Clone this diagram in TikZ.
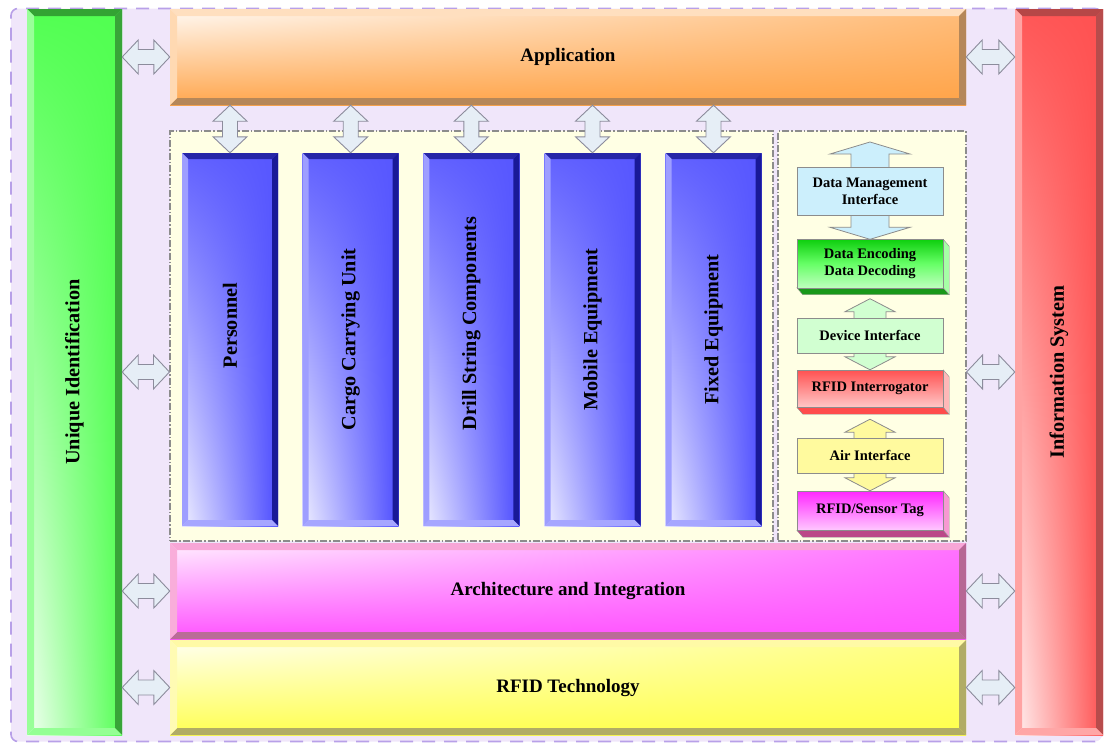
\documentclass[tikz,border=0pt]{standalone}
\usepackage{fontspec}
\setmainfont{Liberation Serif}
\usetikzlibrary{calc,shadings}

\definecolor{lav}{HTML}{F0E6FA}
\definecolor{lavedge}{HTML}{B8A0E8}
\definecolor{panelfill}{HTML}{FFFFE4}
\definecolor{paneledge}{HTML}{8C8C8C}
\definecolor{arrfill}{HTML}{E6EEF6}
\definecolor{arredge}{HTML}{8C8C9C}

% double-headed arrow between two tips on one row
\newcommand\hdarrow[6][]{%
  \draw[#1] (#2) -- ($(#2)+(#6,-#4)$) -- ($(#2)+(#6,-#5)$) -- ($(#3)+(-#6,-#5)$)
    -- ($(#3)+(-#6,-#4)$) -- (#3) -- ($(#3)+(-#6,#4)$) -- ($(#3)+(-#6,#5)$)
    -- ($(#2)+(#6,#5)$) -- ($(#2)+(#6,#4)$) -- cycle;}
% double-headed arrow between two tips in one column
\newcommand\vdarrow[6][]{%
  \draw[#1] (#2) -- ($(#2)+(#4,#6)$) -- ($(#2)+(#5,#6)$) -- ($(#3)+(#5,-#6)$)
    -- ($(#3)+(#4,-#6)$) -- (#3) -- ($(#3)+(-#4,-#6)$) -- ($(#3)+(-#5,-#6)$)
    -- ($(#2)+(-#5,#6)$) -- ($(#2)+(-#4,#6)$) -- cycle;}
% bottom and right faces of a raised box
\newcommand\extrude[3]{%
  \fill[#2,draw=black!45,line width=0.4pt] (#1.south west) -- (#1.south east)
    -- ($(#1.south east)+(6,7)$) -- ($(#1.south west)+(6,7)$) -- cycle;
  \fill[#3,draw=black!45,line width=0.4pt] (#1.north east) -- ($(#1.north east)+(6,7)$)
    -- ($(#1.south east)+(6,7)$) -- (#1.south east) -- cycle;}
% upright label, raised by half of the leading gap
\newcommand\upright[2][0pt]{\rotatebox{90}{\hspace{#1}#2}}

\begin{document}
\begin{tikzpicture}[x=1pt,y=-1pt,
  bevel/.style n args={5}{path picture={
    \coordinate (bvA) at (path picture bounding box.north west);
    \coordinate (bvB) at (path picture bounding box.north east);
    \coordinate (bvC) at (path picture bounding box.south east);
    \coordinate (bvD) at (path picture bounding box.south west);
    \fill[#2] (bvA) -- (bvB) -- ($(bvB)+(-#1,#1)$) -- ($(bvA)+(#1,#1)$) -- cycle;
    \fill[#3] (bvB) -- (bvC) -- ($(bvC)+(-#1,-#1)$) -- ($(bvB)+(-#1,#1)$) -- cycle;
    \fill[#4] (bvC) -- (bvD) -- ($(bvD)+(#1,-#1)$) -- ($(bvC)+(-#1,-#1)$) -- cycle;
    \fill[#5] (bvD) -- (bvA) -- ($(bvA)+(#1,#1)$) -- ($(bvD)+(#1,-#1)$) -- cycle;
  }},
  bar/.style={inner sep=0pt, text=black, font=\fontsize{19}{22}\selectfont\bfseries},
  sidebar/.style={bar, font=\fontsize{20.3}{24}\selectfont\bfseries},
  bluebar/.style={bar, minimum width=96, minimum height=373,
    upper left=blue!62!white, upper right=blue!66!white,
    lower left=blue!6!white, lower right=blue!70!white,
    bevel={6}{blue!60!black!85}{blue!55!black!90}{blue!35!white}{blue!38!white},
    font=\fontsize{20.2}{23}\selectfont\bfseries},
  panel/.style={inner sep=0pt, fill=panelfill, draw=paneledge, line width=1.1pt,
    dash pattern=on 7pt off 2pt on 1.5pt off 2pt},
  garrow/.style={fill=arrfill, draw=arredge, line width=0.9pt, line join=miter},
  item/.style={inner sep=0pt, minimum width=146, text=black, align=center,
    font=\fontsize{14.5}{17}\selectfont\bfseries},
  itemarrow/.style={draw=black!45, line width=0.8pt},
]
\useasboundingbox (0,0) rectangle (1110,744);

% frame
\node[fill=lav, draw=lavedge, line width=1.6pt, dash pattern=on 13pt off 9pt,
  rounded corners=7pt, minimum width=1091, minimum height=733, inner sep=0pt]
  (frame) at (556.5,375) {};

% side bars
\node[sidebar, minimum width=95, minimum height=726,
  upper left=green!68!white, upper right=green!68!white,
  lower left=green!4!white, lower right=green!66!white,
  bevel={7}{green!55!black!80}{green!55!black!78}{green!42!white}{green!40!white}]
  (uid) at (74.5,372) {\upright{Unique Identification}};
\node[sidebar, minimum width=88, minimum height=726,
  upper left=red!66!white, upper right=red!68!white,
  lower left=red!5!white, lower right=red!68!white,
  bevel={7}{red!60!black!72}{red!60!black!70}{red!35!white}{red!36!white}]
  (info) at (1059,372) {\upright{Information System}};

% horizontal layers
\node[bar, minimum width=796, minimum height=96,
  upper left=orange!4!white, upper right=orange!52!white,
  lower left=orange!70!white, lower right=orange!72!white,
  bevel={7}{orange!25!white}{orange!55!black!65}{orange!55!black!65}{orange!30!white}]
  (app) at (568,57) {Application};
\node[bar, minimum width=796, minimum height=96,
  upper left=magenta!6!white, upper right=magenta!55!white,
  lower left=magenta!68!white, lower right=magenta!68!white,
  bevel={7}{magenta!35!white}{magenta!60!black!75}{magenta!60!black!72}{magenta!32!white}]
  (arch) at (568,591) {Architecture and Integration};
\node[bar, minimum width=796, minimum height=95,
  upper left=yellow!5!white, upper right=yellow!50!white,
  lower left=yellow!68!white, lower right=yellow!70!white,
  bevel={7}{yellow!35!white}{yellow!55!black!78}{yellow!55!black!78}{yellow!30!white}]
  (rfid) at (568,687.5) {RFID Technology};

% object group and interface stack
\node[panel, minimum width=603, minimum height=410] (panelL) at (471.5,336) {};
\node[panel, minimum width=188, minimum height=410] (panelR) at (872,336) {};

% tracked object classes
\node[bluebar] (pers)  at (230,339.5)   {\upright[28pt]{Personnel}};
\node[bluebar] (cargo) at (350.7,339.5) {\upright{Cargo Carrying Unit}};
\node[bluebar] (drill) at (471.3,339.5) {\upright[32pt]{Drill String Components}};
\node[bluebar] (mobile)at (592.5,339.5) {\upright[20pt]{Mobile Equipment}};
\node[bluebar] (fixed) at (713.5,339.5) {\upright[20pt]{Fixed Equipment}};

% links from the application layer down to each class
\foreach \n in {pers,cargo,drill,mobile,fixed}{
  \vdarrow[garrow]{app.south -| \n.north}{\n.north}{17}{7.5}{16}
}

% links to the side bars
\coordinate (midrow) at (0,372);
\hdarrow[garrow]{uid.east |- app.west}{app.west}{17}{7.5}{16}
\hdarrow[garrow]{app.east}{info.west |- app.east}{17}{7.5}{16}
\hdarrow[garrow]{uid.east |- midrow}{panelL.west |- midrow}{17}{7.5}{16}
\hdarrow[garrow]{panelR.east |- midrow}{info.west |- midrow}{17}{7.5}{16}
\hdarrow[garrow]{uid.east |- arch.west}{arch.west}{17}{7.5}{16}
\hdarrow[garrow]{arch.east}{info.west |- arch.east}{17}{7.5}{16}
\hdarrow[garrow]{uid.east |- rfid.west}{rfid.west}{17}{7.5}{16}
\hdarrow[garrow]{rfid.east}{info.west |- rfid.east}{17}{7.5}{16}

% interface stack
\coordinate (dmitop) at (870,142);
\node[item, minimum height=48] (enc) at (870,263.5) {};
\vdarrow[itemarrow, fill=cyan!20!white]{dmitop}{enc.north}{40}{19}{12}
\node[item, minimum height=48, fill=cyan!20!white, draw=black!45, line width=0.8pt]
  (dmi) at (870,191) {Data Management\\Interface};

\extrude{enc}{green!55!black!90}{green!35!white}
\node[item, minimum height=49, top color=green!80!black!95, bottom color=green!25!white,
  middle color=green!60!white, draw=black!45, line width=0.4pt]
  at (enc) {Data Encoding\\Data Decoding};

\node[item, minimum height=37] (intr) at (870,388.5) {};
\coordinate (devtop) at ($(enc.south)+(0,11)$);
\vdarrow[itemarrow, fill=green!18!white]{devtop}{intr.north}{25}{16}{13}
\node[item, minimum height=35, fill=green!18!white, draw=black!45, line width=0.8pt]
  (dev) at (870,335.5) {Device Interface};

\extrude{intr}{red!70!white}{red!28!white}
\node[item, minimum height=37, top color=red!68!white, bottom color=red!22!white,
  draw=black!45, line width=0.4pt] at (intr) {RFID Interrogator};

\node[item, minimum height=39] (tag) at (870,510.5) {};
\coordinate (airtop) at ($(intr.south)+(0,12)$);
\vdarrow[itemarrow, fill=yellow!38!white]{airtop}{tag.north}{25}{16}{13}
\node[item, minimum height=35, fill=yellow!38!white, draw=black!45, line width=0.8pt]
  (air) at (870,455.5) {Air Interface};

\extrude{tag}{magenta!70!black!90}{magenta!40!white}
\node[item, minimum height=39, top color=magenta!85!white, bottom color=magenta!22!white,
  draw=black!45, line width=0.4pt] at (tag) {RFID/Sensor Tag};
\end{tikzpicture}
\end{document}
